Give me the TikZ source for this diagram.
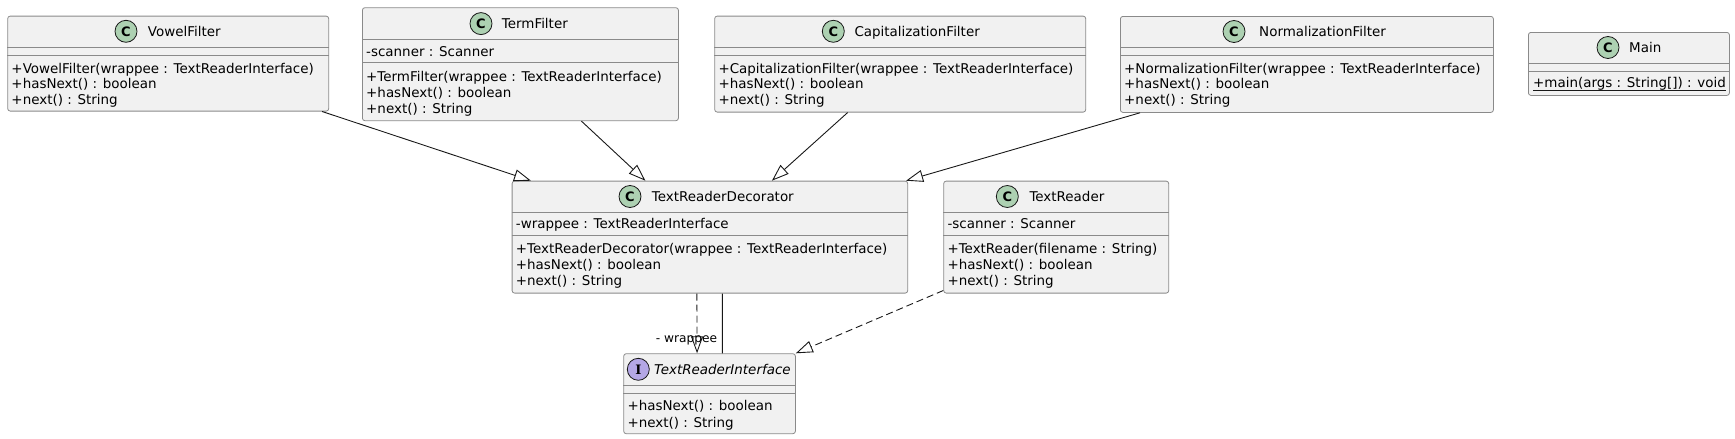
\documentclass[tikz,border=0pt]{standalone}
\usepackage{fontspec}
\setmainfont{DejaVu Sans}
\newfontfamily\iconfont{DejaVu Serif}
\usetikzlibrary{arrows.meta}
\definecolor{boxfill}{HTML}{F1F1F1}
\definecolor{boxline}{HTML}{8A8A8A}
\definecolor{linecol}{HTML}{181818}
\definecolor{classicon}{HTML}{ADD1B2}
\definecolor{ifaceicon}{HTML}{B4A7E5}

\begin{document}
\begin{tikzpicture}[x=1pt,y=-1pt,
	box/.style={draw=boxline, fill=boxfill, line width=0.8pt, rounded corners=2.5pt, anchor=north west, inner sep=0pt},
	sepline/.style={draw=boxline, line width=0.8pt},
	cicon/.style={circle, draw=linecol, fill=classicon, line width=0.8pt, minimum size=22pt, inner sep=0pt, font=\fontsize{13}{13}\selectfont\bfseries},
	iicon/.style={cicon, fill=ifaceicon, font=\iconfont\fontsize{13}{13}\selectfont\bfseries},
	txt/.style={anchor=west, inner sep=0pt, text height=9.8pt, text depth=0pt, font=\fontsize{13.45}{16}\selectfont},
	lbl/.style={txt, text height=8.9pt, font=\fontsize{12.2}{14}\selectfont},
	ext/.style={draw=linecol, line width=0.9pt, -{Triangle[open, length=17pt, width=12pt]}},
	impl/.style={ext, dash pattern=on 7pt off 4pt},
	assoc/.style={draw=linecol, line width=0.9pt}]
	\useasboundingbox (0,0) rectangle (1735,439);
	
	\node[box, minimum width=321pt, minimum height=95pt] (vowel) at (7.3,15.7) {};
	\node[box, minimum width=316pt, minimum height=113pt] (term) at (362,7.3) {};
	\node[box, minimum width=371pt, minimum height=96pt] (cap) at (714.3,15.7) {};
	\node[box, minimum width=373pt, minimum height=96pt] (norm) at (1120,16) {};
	\node[box, minimum width=201pt, minimum height=63pt] (main) at (1528,32) {};
	\node[box, minimum width=395.6pt, minimum height=112pt] (deco) at (511.7,180.7) {};
	\node[box, minimum width=225pt, minimum height=112pt] (reader) at (943.3,180.7) {};
	\node[box, minimum width=171.7pt, minimum height=80pt] (iface) at (623.3,353.3) {};
	
	\draw[sepline] ([yshift=-31.5pt]vowel.north west) -- ([yshift=-31.5pt]vowel.north east);
	\draw[sepline] ([yshift=-39.5pt]vowel.north west) -- ([yshift=-39.5pt]vowel.north east);
	\draw[sepline] ([yshift=-32.5pt]term.north west) -- ([yshift=-32.5pt]term.north east);
	\draw[sepline] ([yshift=-55pt]term.north west) -- ([yshift=-55pt]term.north east);
	\draw[sepline] ([yshift=-31.5pt]cap.north west) -- ([yshift=-31.5pt]cap.north east);
	\draw[sepline] ([yshift=-39.5pt]cap.north west) -- ([yshift=-39.5pt]cap.north east);
	\draw[sepline] ([yshift=-31.5pt]norm.north west) -- ([yshift=-31.5pt]norm.north east);
	\draw[sepline] ([yshift=-39.5pt]norm.north west) -- ([yshift=-39.5pt]norm.north east);
	\draw[sepline] ([yshift=-31.5pt]main.north west) -- ([yshift=-31.5pt]main.north east);
	\draw[sepline] ([yshift=-39.5pt]main.north west) -- ([yshift=-39.5pt]main.north east);
	\draw[sepline] ([yshift=-32pt]deco.north west) -- ([yshift=-32pt]deco.north east);
	\draw[sepline] ([yshift=-54.5pt]deco.north west) -- ([yshift=-54.5pt]deco.north east);
	\draw[sepline] ([yshift=-32pt]reader.north west) -- ([yshift=-32pt]reader.north east);
	\draw[sepline] ([yshift=-54.5pt]reader.north west) -- ([yshift=-54.5pt]reader.north east);
	\draw[sepline] ([yshift=-32.5pt]iface.north west) -- ([yshift=-32.5pt]iface.north east);
	\draw[sepline] ([yshift=-40pt]iface.north west) -- ([yshift=-40pt]iface.north east);
	
	\node[cicon] (vowelC) at (126,31.3) {C};
	\node[txt] (vowelN) at (147.7,31.3) {VowelFilter};
	\node[cicon] (termC) at (481,23.6) {C};
	\node[txt] (termN) at (501.7,23.6) {TermFilter};
	\node[cicon] (capC) at (833.3,31.3) {C};
	\node[txt] (capN) at (854.3,31.3) {CapitalizationFilter};
	\node[cicon] (normC) at (1234,31.5) {C};
	\node[txt] (normN) at (1259,31.5) {NormalizationFilter};
	\node[cicon] (mainC) at (1608,47.5) {C};
	\node[txt] (mainN) at (1629,47.5) {Main};
	\node[cicon] (decoC) at (630,196.5) {C};
	\node[txt] (decoN) at (651.7,196.5) {TextReaderDecorator};
	\node[cicon] (readerC) at (1007.3,196.5) {C};
	\node[txt] (readerN) at (1029.3,196.5) {TextReader};
	\node[iicon] (ifaceI) at (638.3,369.3) {I};
	\node[txt] (ifaceN) at (654,369.3) {\itshape TextReaderInterface};
	
	\node[txt] (vowel1) at (11.3,68.3) {+VowelFilter(wrappee : TextReaderInterface)};
	\node[txt] (vowel2) at (11.3,83.5) {+hasNext() : boolean};
	\node[txt] (vowel3) at (11.3,99.2) {+next() : String};
	\node[txt] (term0) at (366,51.7) {-scanner : Scanner};
	\node[txt] (term1) at (366,76.7) {+TermFilter(wrappee : TextReaderInterface)};
	\node[txt] (term2) at (366,92.3) {+hasNext() : boolean};
	\node[txt] (term3) at (366,108.3) {+next() : String};
	\node[txt] (cap1) at (718.3,68.3) {+CapitalizationFilter(wrappee : TextReaderInterface)};
	\node[txt] (cap2) at (718.3,83.5) {+hasNext() : boolean};
	\node[txt] (cap3) at (718.3,99.3) {+next() : String};
	\node[txt] (norm1) at (1124,68.3) {+NormalizationFilter(wrappee : TextReaderInterface)};
	\node[txt] (norm2) at (1124,83.5) {+hasNext() : boolean};
	\node[txt] (norm3) at (1124,99.5) {+next() : String};
	\node[txt] (main1) at (1533,83) {+main(args : String[]) : void};
	\draw[linecol, line width=0.8pt] ([yshift=-2pt]main1.south west) -- ([yshift=-2pt]main1.south east);
	\node[txt] (deco0) at (515.7,223.3) {-wrappee : TextReaderInterface};
	\node[txt] (deco1) at (515.7,249) {+TextReaderDecorator(wrappee : TextReaderInterface)};
	\node[txt] (deco2) at (515.7,265) {+hasNext() : boolean};
	\node[txt] (deco3) at (515.7,281) {+next() : String};
	\node[txt] (reader0) at (947.3,223.3) {-scanner : Scanner};
	\node[txt] (reader1) at (947.3,249) {+TextReader(filename : String)};
	\node[txt] (reader2) at (947.3,265) {+hasNext() : boolean};
	\node[txt] (reader3) at (947.3,281) {+next() : String};
	\node[txt] (iface1) at (627.3,406) {+hasNext() : boolean};
	\node[txt] (iface2) at (627.3,422.7) {+next() : String};
	
	\draw[ext] ([xshift=-7pt]vowel.south east) -- ([xshift=19.3pt]deco.north west);
	\draw[ext] ([xshift=61pt]term.south) -- ([xshift=-64.5pt]deco.north);
	\draw[ext] ([xshift=-52.5pt]cap.south) -- ([xshift=62pt]deco.north);
	\draw[ext] ([xshift=20pt]norm.south west) -- ([xshift=-2pt]deco.north east);
	\draw[impl] ([xshift=-13pt]deco.south) -- ([xshift=-12.5pt]iface.north);
	\draw[assoc] ([xshift=12.5pt]deco.south) -- ([xshift=12.8pt]iface.north) node[lbl, anchor=east, xshift=-4.7pt, yshift=15pt] (wrap) {- wrappee};
	\draw[impl] ([yshift=3pt]reader.south west) -- (iface.north east);
\end{tikzpicture}
\end{document}
